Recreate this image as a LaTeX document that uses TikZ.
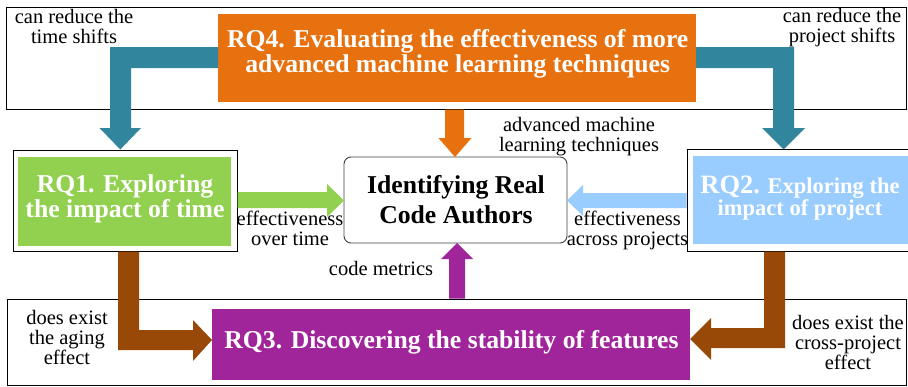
\documentclass[tikz,border=0pt]{standalone}
\usepackage{fontspec}
\setmainfont{Liberation Serif}
\definecolor{cOrange}{HTML}{E8710F}
\definecolor{cTeal}{HTML}{31859C}
\definecolor{cGreen}{HTML}{92D050}
\definecolor{cBlue}{HTML}{99CCFF}
\definecolor{cPurple}{HTML}{A0259A}
\definecolor{cBrown}{HTML}{984807}
\begin{document}
\begin{tikzpicture}[x=1pt,y=-1pt,
  box/.style={rectangle, inner sep=0pt, outer sep=0pt, anchor=north west},
  frame/.style={box, draw=black, line width=0.9pt},
  lbl/.style={inner sep=0pt, anchor=base, align=center, text=black,
    font=\fontsize{20.5}{20}\selectfont},
  title/.style={inner sep=0pt, anchor=base, align=center, text=white,
    font=\bfseries\fontsize{25.7}{19}\selectfont}]
\useasboundingbox (0,0) rectangle (908,386);
% frames and boxes
\node[frame, minimum width=900pt, minimum height=102pt] (topframe) at (6,7) {};
\node[frame, minimum width=899pt, minimum height=86pt] (botframe) at (7,299) {};
\node[frame, minimum width=224pt, minimum height=101pt] (rq1frame) at (13,150) {};
\node[frame, minimum width=230pt, minimum height=102pt] (rq2frame) at (687,149) {};
\node[box, fill=cOrange, minimum width=478pt, minimum height=88pt] (rq4) at (218,14) {};
\node[box, fill=cPurple, minimum width=478pt, minimum height=71pt] (rq3) at (212,309) {};
\node[box, fill=cGreen, minimum width=213pt, minimum height=89pt] (rq1) at (18,157) {};
\node[box, fill=cBlue, minimum width=220pt, minimum height=88pt] (rq2) at (693,156) {};
\node[box, draw=black!75, line width=0.9pt, rounded corners=7pt, fill=white,
  minimum width=223pt, minimum height=86pt] (core) at (344,157) {};
% block arrows
\fill[cTeal] (218,47) -- (110,47) -- (110,128) -- (99.5,128) -- (120.3,149.5)
  -- (141,128) -- (131,128) -- (131,68) -- (218,68) -- cycle;
\fill[cTeal] (696,47) -- (794,47) -- (794,128) -- (805,128) -- (783.5,149.5)
  -- (762,128) -- (773,128) -- (773,68) -- (696,68) -- cycle;
\fill[cOrange] (445,109.5) -- (464,109.5) -- (464,138) -- (471.5,138) -- (455,157)
  -- (438.5,138) -- (445,138) -- cycle;
\fill[cGreen] (237.5,192) -- (327,192) -- (327,184) -- (344,200.5) -- (327,217)
  -- (327,208) -- (237.5,208) -- cycle;
\fill[cBlue] (686.5,193) -- (583,193) -- (583,185) -- (567,200.5) -- (583,216)
  -- (583,208) -- (686.5,208) -- cycle;
\fill[cPurple] (449,298.5) -- (449,259) -- (441,259) -- (457,243) -- (473,259)
  -- (465,259) -- (465,298.5) -- cycle;
\fill[cBrown] (118,251.5) -- (139,251.5) -- (139,330) -- (193,330) -- (193,320)
  -- (212,340) -- (193,361) -- (193,350) -- (118,350) -- cycle;
\fill[cBrown] (764,251.5) -- (785,251.5) -- (785,348) -- (711,348) -- (711,360)
  -- (690,339) -- (711,318) -- (711,328) -- (764,328) -- cycle;
% titles (base anchor = last line's baseline)
\node[title] (rq4t) at (457.7,72) {RQ4. Evaluating the effectiveness of more\\advanced machine learning techniques};
\node[title, font=\bfseries\fontsize{25.7}{21.5}\selectfont] (rq1t) at (125,217) {RQ1. Exploring\\the impact of time};
\node[title, font=\bfseries\fontsize{22.5}{20}\selectfont] (rq2t) at (800,215) {{\fontsize{26.5}{20}\selectfont RQ2.} Exploring the\\impact of project};
\node[title] (rq3t) at (451.5,348) {RQ3. Discovering the stability of features};
\node[title, text=black, font=\bfseries\fontsize{25.7}{30}\selectfont] (coret) at (456,223.3) {Identifying Real\\Code Authors};
% labels
\node[lbl] (l1) at (74,43) {can reduce the\\time shifts};
\node[lbl] (l2) at (842,42) {can reduce the\\project shifts};
\node[lbl] (l3) at (579,151) {advanced machine\\learning techniques};
\node[lbl] (l4) at (290,245) {effectiveness\\over time};
\node[lbl] (l5) at (627.5,245) {effectiveness\\across projects};
\node[lbl] (l6) at (381,275) {code metrics};
\node[lbl] (l7) at (67,364) {does exist\\the aging\\effect};
\node[lbl] (l8) at (848,369) {does exist the\\cross-project\\effect};
\end{tikzpicture}
\end{document}
